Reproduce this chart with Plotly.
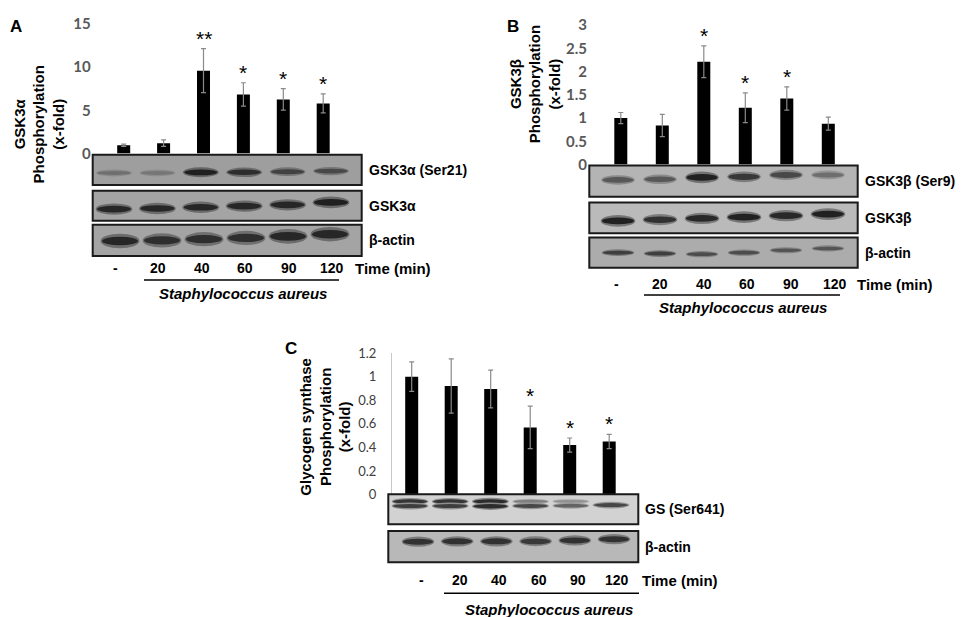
import plotly.graph_objects as go

W, H = 957, 619
X_OFF, Y_OFF, Y_SCALE = 8, 18, 0.967   # where the page puts the figure
ARIAL = "Liberation Sans, Arial, sans-serif"
CALIBRI = "Lato, Liberation Sans, sans-serif"

# lanes (time after infection, min)
lanes = ["-", "20", "40", "60", "90", "120"]

# A - GSK3a phosphorylation (x-fold)
gsk3a_fold = [0.97, 1.2, 9.6, 6.85, 6.27, 5.8]
gsk3a_err = [0.13, 0.38, 2.55, 1.35, 1.25, 1.1]
gsk3a_stars = ["", "", "**", "*", "*", "*"]

# B - GSK3b phosphorylation (x-fold)
gsk3b_fold = [1.0, 0.84, 2.21, 1.22, 1.42, 0.88]
gsk3b_err = [0.12, 0.24, 0.34, 0.32, 0.25, 0.14]
gsk3b_stars = ["", "", "*", "*", "*", ""]

# C - glycogen synthase phosphorylation (x-fold)
gs_fold = [1.0, 0.92, 0.895, 0.57, 0.42, 0.45]
gs_err = [0.125, 0.23, 0.16, 0.18, 0.06, 0.06]
gs_stars = ["", "", "", "*", "*", "*"]

# blot bands: darkness (0 none .. 1 black) and height in the strip (0 bottom .. 1 top)
a_ser21_dark = [0.35, 0.3, 0.95, 0.85, 0.7, 0.65]
a_ser21_pos = [0.4, 0.4, 0.42, 0.42, 0.44, 0.46]
a_total_dark = [0.9, 0.9, 0.9, 0.9, 0.9, 0.95]
a_total_pos = [0.39, 0.41, 0.45, 0.49, 0.53, 0.61]
a_actin_dark = [0.9, 0.85, 0.85, 0.85, 0.9, 0.9]
a_actin_pos = [0.48, 0.5, 0.54, 0.58, 0.63, 0.7]

b_ser9_dark = [0.6, 0.6, 0.95, 0.8, 0.7, 0.45]
b_ser9_pos = [0.54, 0.56, 0.62, 0.64, 0.7, 0.7]
b_total_dark = [0.95, 0.85, 0.9, 0.95, 0.9, 0.95]
b_total_pos = [0.4, 0.44, 0.48, 0.52, 0.57, 0.62]
b_actin_dark = [0.75, 0.75, 0.65, 0.65, 0.6, 0.6]
b_actin_pos = [0.5, 0.47, 0.45, 0.5, 0.58, 0.64]

c_gs_upper_dark = [0.85, 0.85, 0.9, 0.45, 0.35, 0.0]
c_gs_upper_pos = [0.76, 0.76, 0.76, 0.76, 0.76, 0.76]
c_gs_lower_dark = [0.8, 0.8, 0.9, 0.75, 0.6, 0.75]
c_gs_lower_pos = [0.61, 0.61, 0.6, 0.61, 0.62, 0.64]
c_actin_dark = [0.85, 0.85, 0.85, 0.8, 0.85, 0.85]
c_actin_pos = [0.66, 0.67, 0.67, 0.67, 0.7, 0.74]


# picture pixel -> paper fraction
def xp(p):
    return (p - X_OFF) / W


def yp(p):
    return 1 - (p - Y_OFF) / Y_SCALE / H


fig = go.Figure()
axes = {}
shapes = []
notes = []
count = [0]


def note(**kw):
    kw.setdefault("showarrow", False)
    kw.setdefault("xanchor", "center")
    kw.setdefault("yanchor", "middle")
    notes.append(kw)


def new_axes(x0, x1, y_top, y_bottom, xrange, yrange):
    count[0] += 1
    s = "" if count[0] == 1 else str(count[0])
    axes["xaxis" + s] = dict(domain=[max(xp(x0), 0), min(xp(x1), 1)], range=xrange,
                             anchor="y" + s, visible=False, fixedrange=True)
    axes["yaxis" + s] = dict(domain=[max(yp(y_bottom), 0), min(yp(y_top), 1)], range=yrange,
                             anchor="x" + s, visible=False, fixedrange=True)
    return "x" + s, "y" + s, s


def bar_panel(vals, errs, stars, c0, step, zero_px, top_px, ymax, dtick, tickfont, axis_line):
    xa, ya, s = new_axes(c0 - step / 2, c0 + 5.5 * step, top_px, zero_px, [-0.5, 5.5], [0, ymax])
    axes["xaxis" + s].update(type="category")
    axes["yaxis" + s].update(visible=True, showgrid=False, zeroline=False, showline=axis_line,
                             linecolor="#c8c8c8", linewidth=1, ticks="", tickmode="linear",
                             tick0=0, dtick=dtick, tickfont=tickfont, ticklabelstandoff=12)
    fig.add_trace(go.Bar(x=lanes, y=vals, width=13 / step,
                         marker=dict(color="black", line_width=0),
                         error_y=dict(type="data", array=errs, visible=True, color="#8a8a8a",
                                      thickness=1.2, width=2.5),
                         xaxis=xa, yaxis=ya, showlegend=False, hoverinfo="skip"))
    for i, (v, e, st) in enumerate(zip(vals, errs, stars)):
        if st:
            note(x=i, y=v + e, xref=xa, yref=ya, text=st, yanchor="bottom", yshift=-3,
                 font=dict(family=ARIAL, size=21, color="black"))


def grey(level):
    level = int(round(level))
    return f"rgb({level},{level},{level})"


def blot(x0, y0, x1, y1, lane0, step, bg, bands, width_px, thick_px, label, label_x):
    xa, ya, s = new_axes(x0, x1, y0, y1, [(x0 - lane0) / step, (x1 - lane0) / step], [0, 1])
    fig.add_trace(go.Scatter(x=[], y=[], xaxis=xa, yaxis=ya, showlegend=False))
    shapes.append(dict(type="rect", xref="paper", yref="paper", x0=xp(x0), x1=xp(x1),
                       y0=yp(y1), y1=yp(y0), fillcolor=grey(bg), line_width=0, layer="above"))
    hw = width_px / step / 2
    for dark, pos in bands:
        for i in range(len(lanes)):
            d = dark[i]
            if d <= 0:
                continue
            h = thick_px * (0.5 + 0.5 * d) / (y1 - y0) / 2
            shapes.append(dict(type="circle", xref=xa, yref=ya, x0=i - hw * 1.08, x1=i + hw * 1.08,
                               y0=pos[i] - h * 1.7, y1=pos[i] + h * 1.7,
                               fillcolor=grey(bg - d * 0.45 * (bg - 25)), line_width=0))
            shapes.append(dict(type="circle", xref=xa, yref=ya, x0=i - hw, x1=i + hw,
                               y0=pos[i] - h, y1=pos[i] + h,
                               fillcolor=grey(bg - d * (bg - 25)), line_width=0))
    shapes.append(dict(type="rect", xref="paper", yref="paper", x0=xp(x0), x1=xp(x1),
                       y0=yp(y1), y1=yp(y0), line=dict(color="#1a1a1a", width=2)))
    note(x=xp(label_x), y=yp((y0 + y1) / 2), xref="paper", yref="paper",
         text=f"<b>{label}</b>", xanchor="left",
         font=dict(family=ARIAL, size=14, color="black"))


def lane_axis(x0, x1, lane0, step, y_px, time_x, line_x0, line_x1, line_y, italic_x, italic_y):
    xa, ya, s = new_axes(x0, x1, y_px - 4, y_px + 4, [(x0 - lane0) / step, (x1 - lane0) / step], [0, 1])
    fig.add_trace(go.Scatter(x=[], y=[], xaxis=xa, yaxis=ya, showlegend=False))
    for i, lab in enumerate(lanes):
        note(x=i, y=yp(y_px), xref=xa, yref="paper", text=f"<b>{lab}</b>",
             font=dict(family=ARIAL, size=14, color="black"))
    note(x=xp(time_x), y=yp(y_px), xref="paper", yref="paper", xanchor="left",
         text="<b>Time (min)</b>", font=dict(family=ARIAL, size=15, color="black"))
    shapes.append(dict(type="line", xref="paper", yref="paper", x0=xp(line_x0), x1=xp(line_x1),
                       y0=yp(line_y), y1=yp(line_y), line=dict(color="black", width=1.5)))
    note(x=xp(italic_x), y=yp(italic_y), xref="paper", yref="paper",
         text="<b><i>Staphylococcus aureus</i></b>",
         font=dict(family=ARIAL, size=15, color="black"))


def side_text(x, y, text, size=15, angle=-90):
    note(x=xp(x), y=yp(y), xref="paper", yref="paper", text=text, textangle=angle,
         font=dict(family=ARIAL, size=size, color="black"))


gray_ticks = dict(family=CALIBRI, size=15, color="#595959", weight="bold")
plain_ticks = dict(family=CALIBRI, size=13, color="#404040")

# ---- panel A ----
bar_panel(gsk3a_fold, gsk3a_err, gsk3a_stars, 123.7, 39.9, 153, 24, 15, 5, gray_ticks, False)
blot(92.7, 154.3, 361.7, 184.3, 114, 43.4, 158, [(a_ser21_dark, a_ser21_pos)], 33, 6,
     "GSK3α (Ser21)", 367)
blot(92.7, 190, 361.7, 220, 114, 43.4, 164, [(a_total_dark, a_total_pos)], 34, 7, "GSK3α", 367)
blot(92.7, 224, 361.7, 255, 120, 42, 164, [(a_actin_dark, a_actin_pos)], 36, 9, "β-actin", 367)
lane_axis(92.7, 361.7, 115, 43.4, 267, 353, 144, 339, 279, 243, 292)
side_text(39, 124, "<b>GSK3α<br>Phosphorylation<br>(x-fold)</b>")
side_text(16, 26, "<b>A</b>", 17, 0)

# ---- panel B ----
bar_panel(gsk3b_fold, gsk3b_err, gsk3b_stars, 620.8, 41.5, 164, 25, 3, 0.5, gray_ticks, False)
blot(589.3, 165, 857.7, 196, 618, 42, 180, [(b_ser9_dark, b_ser9_pos)], 31, 7,
     "GSK3β (Ser9)", 863)
blot(589.3, 201.7, 857.7, 232.3, 618, 42, 186, [(b_total_dark, b_total_pos)], 32, 7, "GSK3β", 863)
blot(589.3, 236.7, 857.7, 266.7, 618, 42, 172, [(b_actin_dark, b_actin_pos)], 30, 4.5,
     "β-actin", 863)
lane_axis(589.3, 857.7, 616, 43.8, 283, 855, 644, 840, 294, 743, 306)
side_text(535, 84, "<b>GSK3β<br>Phosphorylation<br>(x-fold)</b>")
side_text(513, 26, "<b>B</b>", 17, 0)

# ---- panel C ----
bar_panel(gs_fold, gs_err, gs_stars, 411.7, 39.5, 492.7, 351.7, 1.2, 0.2, plain_ticks, True)
blot(388.3, 492.3, 638.3, 522.3, 410, 40.2, 210,
     [(c_gs_upper_dark, c_gs_upper_pos), (c_gs_lower_dark, c_gs_lower_pos)], 34, 4.5,
     "GS (Ser641)", 643)
blot(388.3, 529, 638.3, 560, 418, 39.2, 184, [(c_actin_dark, c_actin_pos)], 30, 6.5,
     "β-actin", 643)
lane_axis(388.3, 638.3, 421, 39.2, 578, 640, 444, 639, 591, 549, 607)
side_text(325, 425, "<b>Glycogen synthase<br>Phosphorylation<br>(x-fold)</b>")
side_text(291, 347, "<b>C</b>", 17, 0)

fig.update_layout(width=W, height=H, margin=dict(l=0, r=0, t=0, b=0),
                  paper_bgcolor="white", plot_bgcolor="rgba(0,0,0,0)",
                  showlegend=False, shapes=shapes, annotations=notes, **axes)
fig.write_html("out.html")
